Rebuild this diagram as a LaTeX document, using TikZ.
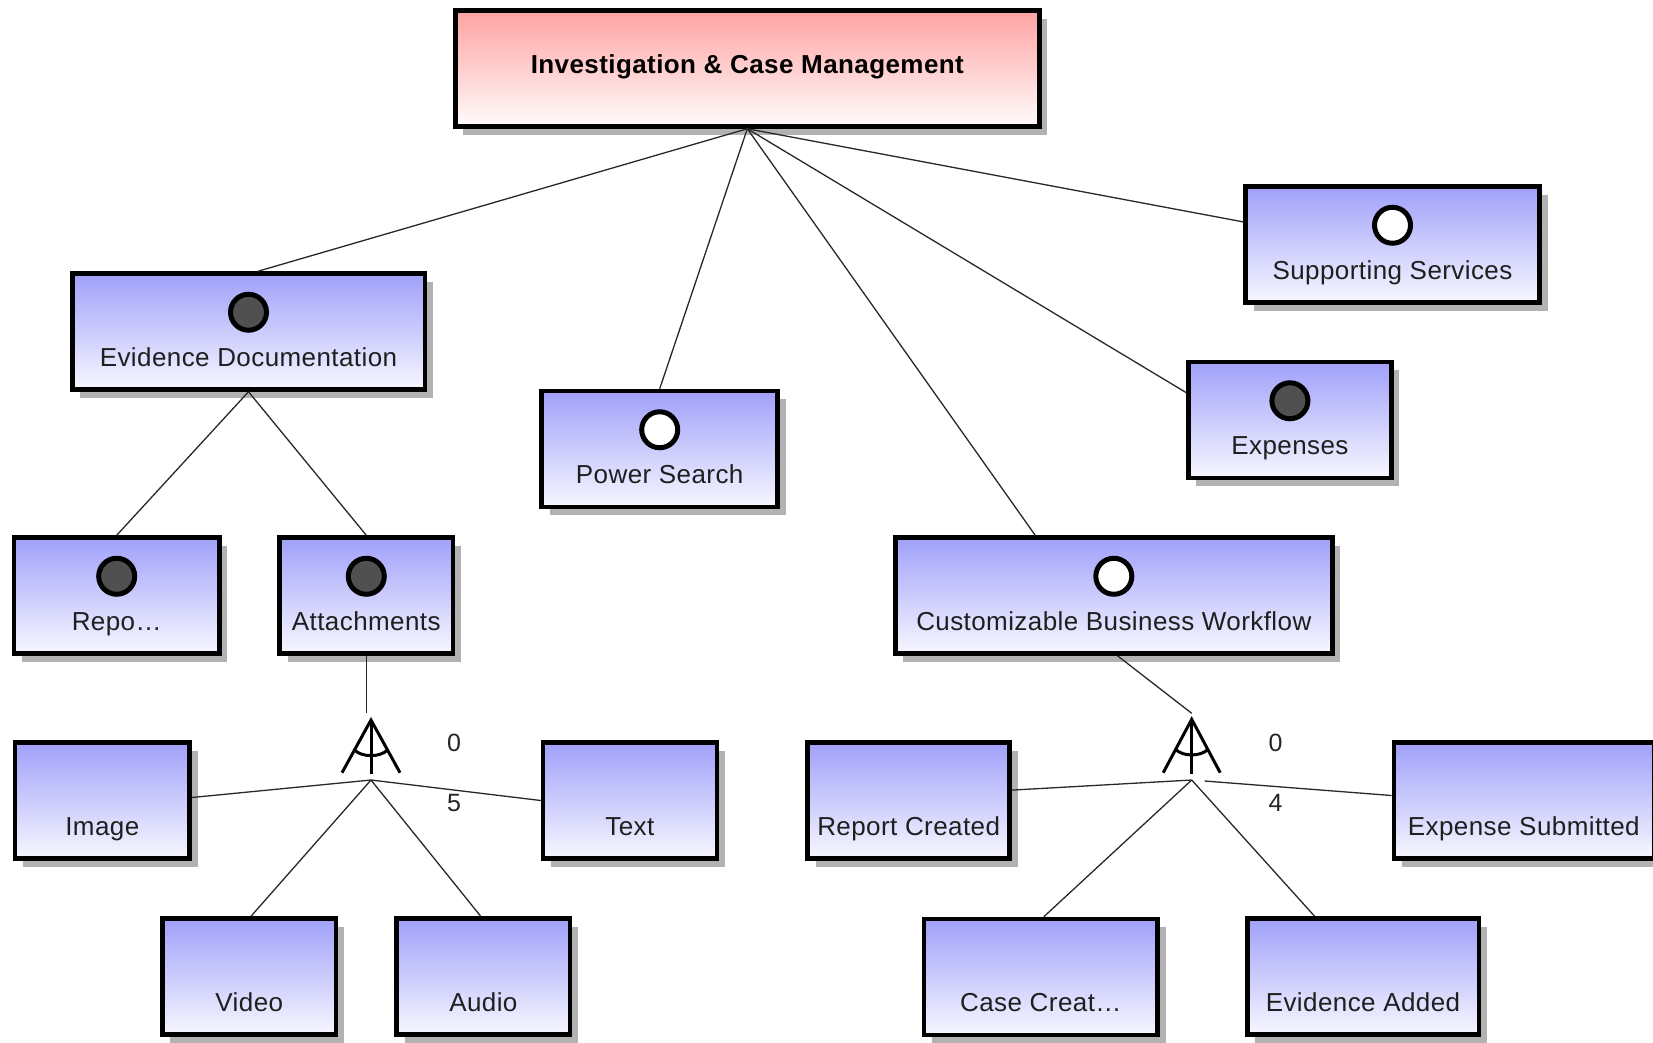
\documentclass[tikz,border=0pt]{standalone}
\usepackage{fontspec}
\setmainfont{Liberation Sans}[LetterSpace=1.6]
\usetikzlibrary{shadows}
\definecolor{fblue}{RGB}{160,160,250}
\definecolor{fbluebot}{RGB}{247,247,255}
\definecolor{fpink}{RGB}{255,162,162}
\definecolor{fpinkbot}{RGB}{255,252,252}
\definecolor{shadowgray}{RGB}{178,178,178}
\definecolor{darkdot}{RGB}{80,80,80}
\definecolor{linkgray}{RGB}{40,40,40}
\begin{document}
\begin{tikzpicture}[x=1pt,y=-1pt,
  fbox/.style={rectangle, draw=black, line width=4.5pt, minimum height=116pt, inner sep=0pt,
    top color=fblue, bottom color=fbluebot,
    drop shadow={shadow xshift=8pt, shadow yshift=-8pt, fill=shadowgray, opacity=1}},
  rootbox/.style={fbox, top color=fpink, bottom color=fpinkbot},
  flabel/.style={anchor=base, inner sep=0pt, text=black!88, font=\fontsize{26pt}{30pt}\selectfont},
  rootlabel/.style={anchor=base, inner sep=0pt, text=black, font=\fontsize{26pt}{30pt}\selectfont\bfseries},
  fdot/.style={circle, draw=black, line width=5pt, minimum size=36pt, inner sep=0pt},
  fdark/.style={fdot, fill=darkdot},
  flight/.style={fdot, fill=white},
  link/.style={draw=linkgray, line width=1.3pt},
  grp/.style={draw=black, line width=3pt},
  card/.style={inner sep=0pt, text=black!85, font=\fontsize{25pt}{30pt}\selectfont}
]
\useasboundingbox (0,0) rectangle (1653,1042);
\fill[white] (0,0) rectangle (1653,1042);
\clip (0,0) rectangle (1653,1042);

% root
\node[rootbox, minimum width=584pt] (root) at (747.3,68.5) {};
\node[rootlabel] (roott) at ([yshift=-65pt]root.north) {Investigation \& Case Management};

% level 1
\node[fbox, minimum width=352.5pt] (ed) at (248.5,331.5) {};
\node[fdark] (edc) at ([yshift=-41pt]ed.north) {};
\node[flabel] (edt) at ([yshift=-95pt]ed.north) {Evidence Documentation};

\node[fbox, minimum width=236pt] (ps) at (659.7,449) {};
\node[flight] (psc) at ([yshift=-41pt]ps.north) {};
\node[flabel] (pst) at ([yshift=-95pt]ps.north) {Power Search};

\node[fbox, minimum width=294pt] (ss) at (1392.5,244.5) {};
\node[flight] (ssc) at ([yshift=-41pt]ss.north) {};
\node[flabel] (sst) at ([yshift=-95pt]ss.north) {Supporting Services};

\node[fbox, minimum width=203pt] (exp) at (1289.9,420) {};
\node[fdark] (expc) at ([yshift=-41pt]exp.north) {};
\node[flabel] (expt) at ([yshift=-95pt]exp.north) {Expenses};

\node[fbox, minimum width=437pt] (cbw) at (1113.8,595.5) {};
\node[flight] (cbwc) at ([yshift=-41pt]cbw.north) {};
\node[flabel] (cbwt) at ([yshift=-95pt]cbw.north) {Customizable Business Workflow};

% level 2
\node[fbox, minimum width=205.5pt] (repo) at (116.7,595.5) {};
\node[fdark] (repoc) at ([yshift=-41pt]repo.north) {};
\node[flabel] (repot) at ([yshift=-95pt]repo.north) {Repo\ldots};

\node[fbox, minimum width=173.6pt] (att) at (366.3,595.5) {};
\node[fdark] (attc) at ([yshift=-41pt]att.north) {};
\node[flabel] (attt) at ([yshift=-95pt]att.north) {Attachments};

% level 3
\node[fbox, minimum width=174.7pt] (img) at (102.3,800.5) {};
\node[flabel] (imgt) at ([yshift=-95pt]img.north) {Image};
\node[fbox, minimum width=173.7pt] (txt) at (629.9,800.5) {};
\node[flabel] (txtt) at ([yshift=-95pt]txt.north) {Text};
\node[fbox, minimum width=173.7pt] (vid) at (249.3,976.5) {};
\node[flabel] (vidt) at ([yshift=-95pt]vid.north) {Video};
\node[fbox, minimum width=173.6pt] (aud) at (483.4,976.5) {};
\node[flabel] (audt) at ([yshift=-95pt]aud.north) {Audio};

\node[fbox, minimum width=202pt] (rc) at (908.7,800.5) {};
\node[flabel] (rct) at ([yshift=-95pt]rc.north) {Report Created};
\node[fbox, minimum width=260pt] (es) at (1523.8,800.5) {};
\node[flabel] (est) at ([yshift=-95pt]es.north) {Expense Submitted};
\node[fbox, minimum width=233.8pt] (cc) at (1040.8,977) {};
\node[flabel] (cct) at ([yshift=-95pt]cc.north) {Case Creat\ldots};
\node[fbox, minimum width=231.5pt] (ea) at (1363,976.5) {};
\node[flabel] (eat) at ([yshift=-95pt]ea.north) {Evidence Added};

% connectors from root
\draw[link] (root.south) -- ([xshift=9.5pt]ed.north);
\draw[link] (root.south) -- (ps.north);
\draw[link] (root.south) -- ([xshift=-78.6pt]cbw.north);
\draw[link] (root.south) -- ([yshift=27.4pt]exp.west);
\draw[link] (root.south) -- ([yshift=22.6pt]ss.west);
\draw[link] (ed.south) -- (repo.north);
\draw[link] (ed.south) -- (att.north);

% group 1
\coordinate (g1top) at (366.3,713);
\coordinate (g1apex) at (371,720);
\coordinate (g1) at (371,780);
\draw[link] (att.south) -- (g1top);
\begin{scope}[shift={(g1apex)}]
  \draw[grp] (-29,52.7) -- (0,0) -- (29,52.7);
  \draw[grp] (0,0) -- (0,54);
  \draw[grp] (-16.5,30) .. controls (-9,37.5) and (9,37.5) .. (16.5,30);
\end{scope}
\draw[link] (g1) -- ([yshift=3pt]img.east);
\draw[link] (g1) -- (txt.west);
\draw[link] (g1) -- ([xshift=1.7pt]vid.north);
\draw[link] (g1) -- ([xshift=-2.7pt]aud.north);
\node[card] (g1min) at (454,742.7) {0};
\node[card] (g1max) at (454,802.7) {5};

% group 2
\coordinate (g2top) at (1191.7,713.3);
\coordinate (g2apex) at (1191.7,719.3);
\coordinate (g2) at (1191.7,780);
\draw[link] ([xshift=3.7pt]cbw.south) -- (g2top);
\begin{scope}[shift={(g2apex)}]
  \draw[grp] (-28.5,53.4) -- (0,0) -- (28.5,53.4);
  \draw[grp] (0,0) -- (0,54.7);
  \draw[grp] (-16.2,30) .. controls (-9,37.5) and (9,37.5) .. (16.2,30);
\end{scope}
\draw[link] (g2) -- ([yshift=10.4pt]rc.east);
\draw[link, shorten <=13pt] (g2) -- ([yshift=5pt]es.west);
\draw[link] (g2) -- ([xshift=3pt]cc.north);
\draw[link] (g2) -- ([xshift=-48.4pt]ea.north);
\node[card] (g2min) at (1275.6,742.7) {0};
\node[card] (g2max) at (1275.6,802.7) {4};
\end{tikzpicture}
\end{document}
